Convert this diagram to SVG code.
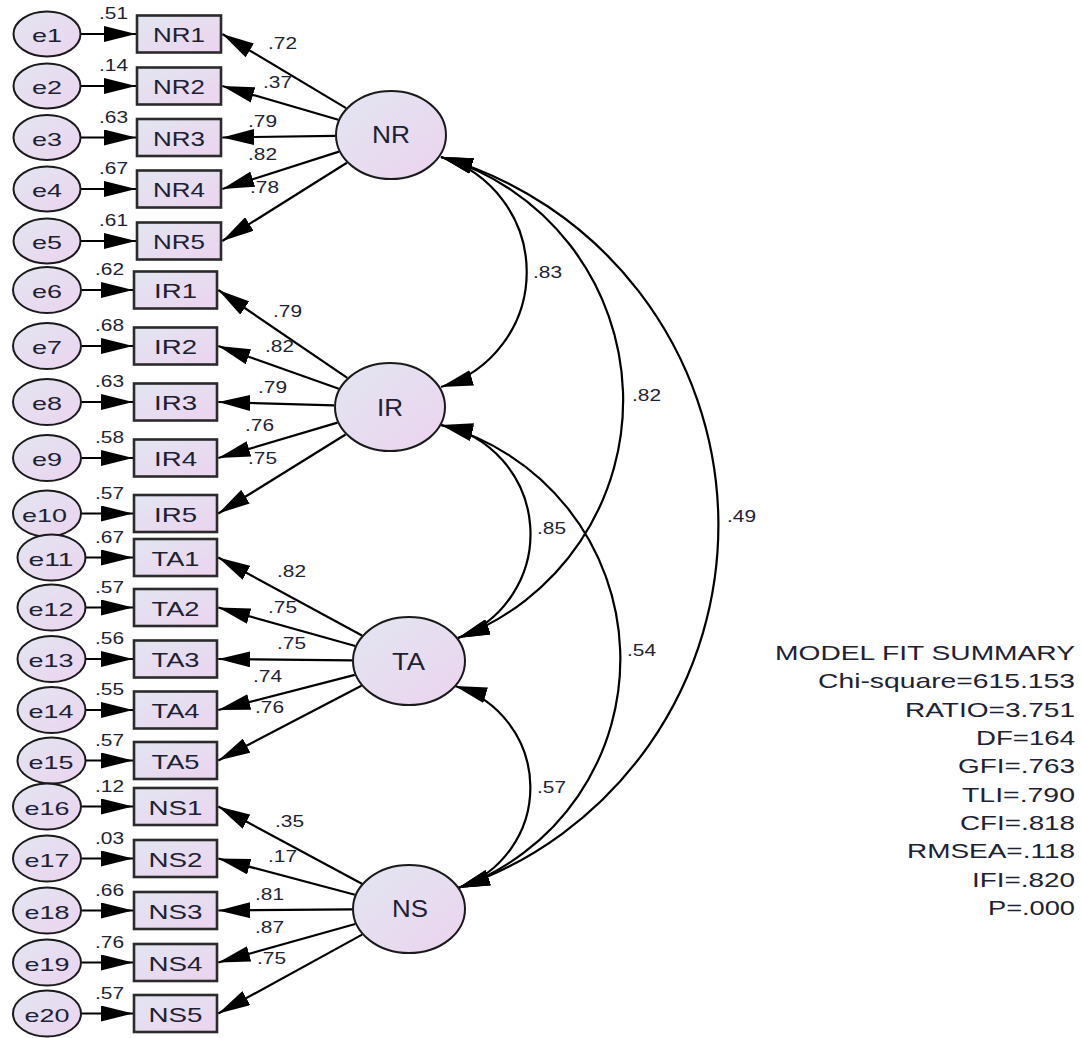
<svg xmlns="http://www.w3.org/2000/svg" width="1081" height="1038" viewBox="0 0 1081 1038">
<defs>
<linearGradient id="g" x1="0" y1="0" x2="1" y2="1">
<stop offset="0" stop-color="#e2e6f1"/>
<stop offset="1" stop-color="#ecd3ef"/>
</linearGradient>
<marker id="ah" viewBox="0 0 32 16" refX="32" refY="8" markerWidth="32" markerHeight="16" markerUnits="userSpaceOnUse" orient="auto-start-reverse">
<path d="M0,0 L32,8 L0,16 Z" fill="#000"/>
</marker>
<style>
.err{fill:url(#g);stroke:#1a1a1a;stroke-width:2}
.lat{fill:url(#g);stroke:#1a1a1a;stroke-width:2}
.box{fill:url(#g);stroke:#2b2b2b;stroke-width:2.6}
.cn line{stroke:#000;stroke-width:2.2;fill:none;marker-end:url(#ah)}
.cn path{stroke:#000;stroke-width:2.2;fill:none;marker-start:url(#ah);marker-end:url(#ah)}
text{font-family:"Liberation Sans",Arial,sans-serif;fill:#1d2233}
.el{font-size:19px}
.bl{font-size:21px}
.ll{font-size:23px}
.nl{font-size:16.5px}
.fit{font-size:21px}
</style>
</defs>

<g id="connectors" class="cn">
<!-- error to indicator -->
<line x1="81" y1="34" x2="136" y2="34"/>
<line x1="81" y1="86" x2="136" y2="86"/>
<line x1="81" y1="137.5" x2="136" y2="137.5"/>
<line x1="81" y1="189" x2="136" y2="189"/>
<line x1="81" y1="241" x2="136" y2="241"/>
<line x1="81.5" y1="290" x2="133" y2="290"/>
<line x1="81.5" y1="346" x2="133" y2="346"/>
<line x1="81.5" y1="402" x2="133" y2="402"/>
<line x1="81.5" y1="458" x2="133" y2="458"/>
<line x1="81.5" y1="513.5" x2="133" y2="513.5"/>
<line x1="86" y1="557.5" x2="133" y2="557.5"/>
<line x1="86" y1="607.5" x2="133" y2="607.5"/>
<line x1="86" y1="659" x2="133" y2="659"/>
<line x1="86" y1="710" x2="133" y2="710"/>
<line x1="86" y1="760.5" x2="133" y2="760.5"/>
<line x1="81.5" y1="806.5" x2="133" y2="806.5"/>
<line x1="81.5" y1="858.5" x2="133" y2="858.5"/>
<line x1="81.5" y1="910.5" x2="133" y2="910.5"/>
<line x1="81.5" y1="962.5" x2="133" y2="962.5"/>
<line x1="81.5" y1="1013.5" x2="133" y2="1013.5"/>
<!-- loadings NR -->
<line x1="346.1" y1="108.1" x2="222.3" y2="34"/>
<line x1="338.3" y1="119.7" x2="222.3" y2="86"/>
<line x1="335" y1="135.8" x2="222.3" y2="137.5"/>
<line x1="339" y1="151.6" x2="222.3" y2="189"/>
<line x1="346.9" y1="162.7" x2="222.3" y2="241"/>
<!-- loadings IR -->
<line x1="347.3" y1="377.9" x2="218.3" y2="290"/>
<line x1="338.8" y1="388.8" x2="218.3" y2="346"/>
<line x1="334" y1="405.4" x2="218.3" y2="402"/>
<line x1="337.5" y1="422.6" x2="218.3" y2="458"/>
<line x1="345.6" y1="434.5" x2="218.3" y2="513.5"/>
<!-- loadings TA -->
<line x1="362" y1="635.5" x2="218.3" y2="557.5"/>
<line x1="355.3" y1="646" x2="218.3" y2="607.5"/>
<line x1="352" y1="660.4" x2="218.3" y2="659"/>
<line x1="354.8" y1="674.9" x2="218.3" y2="710"/>
<line x1="361.4" y1="685.8" x2="218.3" y2="760.5"/>
<!-- loadings NS -->
<line x1="361.9" y1="883.7" x2="218.3" y2="806.5"/>
<line x1="354.9" y1="894.7" x2="218.3" y2="858.5"/>
<line x1="352" y1="909.4" x2="218.3" y2="910.5"/>
<line x1="355.3" y1="924" x2="218.3" y2="962.5"/>
<line x1="362.1" y1="934.6" x2="218.3" y2="1013.5"/>
<!-- covariances -->
<path d="M441,157 A120,120 0 0 1 441,387"/>
<path d="M441,157 A253.6,253.6 0 0 1 458,638"/>
<path d="M441,157 A383,383 0 0 1 458,888"/>
<path d="M441,425 A111,111 0 0 1 458,638"/>
<path d="M441,425 A242.5,242.5 0 0 1 458,888"/>
<path d="M455,686 A106,106 0 0 1 458,888"/>
</g>

<g id="connector-labels" class="nl">
<!-- squared multiple correlations -->
<text class="nl" x="99" y="19" textLength="29" lengthAdjust="spacingAndGlyphs">.51</text>
<text class="nl" x="99" y="71" textLength="29" lengthAdjust="spacingAndGlyphs">.14</text>
<text class="nl" x="99" y="122.5" textLength="29" lengthAdjust="spacingAndGlyphs">.63</text>
<text class="nl" x="99" y="174" textLength="29" lengthAdjust="spacingAndGlyphs">.67</text>
<text class="nl" x="99" y="226" textLength="29" lengthAdjust="spacingAndGlyphs">.61</text>
<text class="nl" x="95" y="275" textLength="29" lengthAdjust="spacingAndGlyphs">.62</text>
<text class="nl" x="95" y="331" textLength="29" lengthAdjust="spacingAndGlyphs">.68</text>
<text class="nl" x="95" y="387" textLength="29" lengthAdjust="spacingAndGlyphs">.63</text>
<text class="nl" x="95" y="443" textLength="29" lengthAdjust="spacingAndGlyphs">.58</text>
<text class="nl" x="95" y="498.5" textLength="29" lengthAdjust="spacingAndGlyphs">.57</text>
<text class="nl" x="95" y="542.5" textLength="29" lengthAdjust="spacingAndGlyphs">.67</text>
<text class="nl" x="95" y="592.5" textLength="29" lengthAdjust="spacingAndGlyphs">.57</text>
<text class="nl" x="95" y="644" textLength="29" lengthAdjust="spacingAndGlyphs">.56</text>
<text class="nl" x="95" y="695" textLength="29" lengthAdjust="spacingAndGlyphs">.55</text>
<text class="nl" x="95" y="745.5" textLength="29" lengthAdjust="spacingAndGlyphs">.57</text>
<text class="nl" x="95" y="791.5" textLength="29" lengthAdjust="spacingAndGlyphs">.12</text>
<text class="nl" x="95" y="843.5" textLength="29" lengthAdjust="spacingAndGlyphs">.03</text>
<text class="nl" x="95" y="895.5" textLength="29" lengthAdjust="spacingAndGlyphs">.66</text>
<text class="nl" x="95" y="947.5" textLength="29" lengthAdjust="spacingAndGlyphs">.76</text>
<text class="nl" x="95" y="998.5" textLength="29" lengthAdjust="spacingAndGlyphs">.57</text>
<!-- loadings -->
<text class="nl" x="268" y="49" textLength="29" lengthAdjust="spacingAndGlyphs">.72</text>
<text class="nl" x="263" y="88" textLength="29" lengthAdjust="spacingAndGlyphs">.37</text>
<text class="nl" x="248" y="127" textLength="29" lengthAdjust="spacingAndGlyphs">.79</text>
<text class="nl" x="248" y="160" textLength="29" lengthAdjust="spacingAndGlyphs">.82</text>
<text class="nl" x="250" y="193" textLength="29" lengthAdjust="spacingAndGlyphs">.78</text>
<text class="nl" x="273" y="317" textLength="29" lengthAdjust="spacingAndGlyphs">.79</text>
<text class="nl" x="265" y="352" textLength="29" lengthAdjust="spacingAndGlyphs">.82</text>
<text class="nl" x="258" y="393" textLength="29" lengthAdjust="spacingAndGlyphs">.79</text>
<text class="nl" x="245" y="431" textLength="29" lengthAdjust="spacingAndGlyphs">.76</text>
<text class="nl" x="248" y="464" textLength="29" lengthAdjust="spacingAndGlyphs">.75</text>
<text class="nl" x="277" y="577" textLength="29" lengthAdjust="spacingAndGlyphs">.82</text>
<text class="nl" x="268" y="613" textLength="29" lengthAdjust="spacingAndGlyphs">.75</text>
<text class="nl" x="277" y="649" textLength="29" lengthAdjust="spacingAndGlyphs">.75</text>
<text class="nl" x="253" y="682" textLength="29" lengthAdjust="spacingAndGlyphs">.74</text>
<text class="nl" x="255" y="713" textLength="29" lengthAdjust="spacingAndGlyphs">.76</text>
<text class="nl" x="275" y="827" textLength="29" lengthAdjust="spacingAndGlyphs">.35</text>
<text class="nl" x="268" y="862" textLength="29" lengthAdjust="spacingAndGlyphs">.17</text>
<text class="nl" x="255" y="900" textLength="29" lengthAdjust="spacingAndGlyphs">.81</text>
<text class="nl" x="255" y="933" textLength="29" lengthAdjust="spacingAndGlyphs">.87</text>
<text class="nl" x="257" y="964" textLength="29" lengthAdjust="spacingAndGlyphs">.75</text>
<!-- covariances -->
<text class="nl" x="533" y="278" textLength="29" lengthAdjust="spacingAndGlyphs">.83</text>
<text class="nl" x="632" y="401" textLength="29" lengthAdjust="spacingAndGlyphs">.82</text>
<text class="nl" x="727" y="522" textLength="29" lengthAdjust="spacingAndGlyphs">.49</text>
<text class="nl" x="537" y="534" textLength="29" lengthAdjust="spacingAndGlyphs">.85</text>
<text class="nl" x="627" y="656" textLength="29" lengthAdjust="spacingAndGlyphs">.54</text>
<text class="nl" x="537" y="793" textLength="29" lengthAdjust="spacingAndGlyphs">.57</text>
</g>

<!-- error terms -->
<g id="e1"><ellipse class="err" cx="47" cy="34" rx="33.5" ry="22.5"/><text class="el" x="32" y="42" textLength="30" lengthAdjust="spacingAndGlyphs">e1</text></g>
<g id="e2"><ellipse class="err" cx="47" cy="86" rx="33.5" ry="22.5"/><text class="el" x="32" y="94" textLength="30" lengthAdjust="spacingAndGlyphs">e2</text></g>
<g id="e3"><ellipse class="err" cx="47" cy="137.5" rx="33.5" ry="22.5"/><text class="el" x="32" y="145.5" textLength="30" lengthAdjust="spacingAndGlyphs">e3</text></g>
<g id="e4"><ellipse class="err" cx="47" cy="189" rx="33.5" ry="22.5"/><text class="el" x="32" y="197" textLength="30" lengthAdjust="spacingAndGlyphs">e4</text></g>
<g id="e5"><ellipse class="err" cx="47" cy="241" rx="33.5" ry="22.5"/><text class="el" x="32" y="249" textLength="30" lengthAdjust="spacingAndGlyphs">e5</text></g>
<g id="e6"><ellipse class="err" cx="47" cy="290" rx="34" ry="23"/><text class="el" x="32" y="298" textLength="30" lengthAdjust="spacingAndGlyphs">e6</text></g>
<g id="e7"><ellipse class="err" cx="47" cy="346" rx="34" ry="23"/><text class="el" x="32" y="354" textLength="30" lengthAdjust="spacingAndGlyphs">e7</text></g>
<g id="e8"><ellipse class="err" cx="47" cy="402" rx="34" ry="23"/><text class="el" x="32" y="410" textLength="30" lengthAdjust="spacingAndGlyphs">e8</text></g>
<g id="e9"><ellipse class="err" cx="47" cy="458" rx="34" ry="23"/><text class="el" x="32" y="466" textLength="30" lengthAdjust="spacingAndGlyphs">e9</text></g>
<g id="e10"><ellipse class="err" cx="47" cy="513.5" rx="34" ry="23"/><text class="el" x="22" y="521.5" textLength="45" lengthAdjust="spacingAndGlyphs">e10</text></g>
<g id="e11"><ellipse class="err" cx="51.5" cy="557.5" rx="34" ry="23"/><text class="el" x="28.5" y="565.5" textLength="45" lengthAdjust="spacingAndGlyphs">e11</text></g>
<g id="e12"><ellipse class="err" cx="51.5" cy="607.5" rx="34" ry="23"/><text class="el" x="28.5" y="615.5" textLength="45" lengthAdjust="spacingAndGlyphs">e12</text></g>
<g id="e13"><ellipse class="err" cx="51.5" cy="659" rx="34" ry="23"/><text class="el" x="28.5" y="667" textLength="45" lengthAdjust="spacingAndGlyphs">e13</text></g>
<g id="e14"><ellipse class="err" cx="51.5" cy="710" rx="34" ry="23"/><text class="el" x="28.5" y="718" textLength="45" lengthAdjust="spacingAndGlyphs">e14</text></g>
<g id="e15"><ellipse class="err" cx="51.5" cy="760.5" rx="34" ry="23"/><text class="el" x="28.5" y="768.5" textLength="45" lengthAdjust="spacingAndGlyphs">e15</text></g>
<g id="e16"><ellipse class="err" cx="47" cy="806.5" rx="34" ry="23"/><text class="el" x="24.5" y="814.5" textLength="45" lengthAdjust="spacingAndGlyphs">e16</text></g>
<g id="e17"><ellipse class="err" cx="47" cy="858.5" rx="34" ry="23"/><text class="el" x="24.5" y="866.5" textLength="45" lengthAdjust="spacingAndGlyphs">e17</text></g>
<g id="e18"><ellipse class="err" cx="47" cy="910.5" rx="34" ry="23"/><text class="el" x="24.5" y="918.5" textLength="45" lengthAdjust="spacingAndGlyphs">e18</text></g>
<g id="e19"><ellipse class="err" cx="47" cy="962.5" rx="34" ry="23"/><text class="el" x="24.5" y="970.5" textLength="45" lengthAdjust="spacingAndGlyphs">e19</text></g>
<g id="e20"><ellipse class="err" cx="47" cy="1013.5" rx="34" ry="23"/><text class="el" x="24.5" y="1021.5" textLength="45" lengthAdjust="spacingAndGlyphs">e20</text></g>

<!-- indicators -->
<g id="NR1"><rect class="box" x="137" y="15.5" width="84" height="37"/><text class="bl" x="153" y="42" textLength="52" lengthAdjust="spacingAndGlyphs">NR1</text></g>
<g id="NR2"><rect class="box" x="137" y="67.5" width="84" height="37"/><text class="bl" x="153" y="94" textLength="52" lengthAdjust="spacingAndGlyphs">NR2</text></g>
<g id="NR3"><rect class="box" x="137" y="119" width="84" height="37"/><text class="bl" x="153" y="145.5" textLength="52" lengthAdjust="spacingAndGlyphs">NR3</text></g>
<g id="NR4"><rect class="box" x="137" y="170.5" width="84" height="37"/><text class="bl" x="153" y="197" textLength="52" lengthAdjust="spacingAndGlyphs">NR4</text></g>
<g id="NR5"><rect class="box" x="137" y="222.5" width="84" height="37"/><text class="bl" x="153" y="249" textLength="52" lengthAdjust="spacingAndGlyphs">NR5</text></g>
<g id="IR1"><rect class="box" x="134" y="271.5" width="83" height="37"/><text class="bl" x="154" y="298" textLength="43" lengthAdjust="spacingAndGlyphs">IR1</text></g>
<g id="IR2"><rect class="box" x="134" y="327.5" width="83" height="37"/><text class="bl" x="154" y="354" textLength="43" lengthAdjust="spacingAndGlyphs">IR2</text></g>
<g id="IR3"><rect class="box" x="134" y="383.5" width="83" height="37"/><text class="bl" x="154" y="410" textLength="43" lengthAdjust="spacingAndGlyphs">IR3</text></g>
<g id="IR4"><rect class="box" x="134" y="439.5" width="83" height="37"/><text class="bl" x="154" y="466" textLength="43" lengthAdjust="spacingAndGlyphs">IR4</text></g>
<g id="IR5"><rect class="box" x="134" y="495" width="83" height="37"/><text class="bl" x="154" y="521.5" textLength="43" lengthAdjust="spacingAndGlyphs">IR5</text></g>
<g id="TA1"><rect class="box" x="134" y="539" width="83" height="37"/><text class="bl" x="151.5" y="565.5" textLength="48" lengthAdjust="spacingAndGlyphs">TA1</text></g>
<g id="TA2"><rect class="box" x="134" y="589" width="83" height="37"/><text class="bl" x="151.5" y="615.5" textLength="48" lengthAdjust="spacingAndGlyphs">TA2</text></g>
<g id="TA3"><rect class="box" x="134" y="640.5" width="83" height="37"/><text class="bl" x="151.5" y="667" textLength="48" lengthAdjust="spacingAndGlyphs">TA3</text></g>
<g id="TA4"><rect class="box" x="134" y="691.5" width="83" height="37"/><text class="bl" x="151.5" y="718" textLength="48" lengthAdjust="spacingAndGlyphs">TA4</text></g>
<g id="TA5"><rect class="box" x="134" y="742" width="83" height="37"/><text class="bl" x="151.5" y="768.5" textLength="48" lengthAdjust="spacingAndGlyphs">TA5</text></g>
<g id="NS1"><rect class="box" x="134" y="788" width="83" height="37"/><text class="bl" x="148.5" y="814.5" textLength="54" lengthAdjust="spacingAndGlyphs">NS1</text></g>
<g id="NS2"><rect class="box" x="134" y="840" width="83" height="37"/><text class="bl" x="148.5" y="866.5" textLength="54" lengthAdjust="spacingAndGlyphs">NS2</text></g>
<g id="NS3"><rect class="box" x="134" y="892" width="83" height="37"/><text class="bl" x="148.5" y="918.5" textLength="54" lengthAdjust="spacingAndGlyphs">NS3</text></g>
<g id="NS4"><rect class="box" x="134" y="944" width="83" height="37"/><text class="bl" x="148.5" y="970.5" textLength="54" lengthAdjust="spacingAndGlyphs">NS4</text></g>
<g id="NS5"><rect class="box" x="134" y="995" width="83" height="37"/><text class="bl" x="148.5" y="1021.5" textLength="54" lengthAdjust="spacingAndGlyphs">NS5</text></g>

<!-- latent variables -->
<g id="NR"><ellipse class="lat" cx="391" cy="135" rx="55" ry="44"/><text class="ll" x="372" y="143" textLength="38" lengthAdjust="spacingAndGlyphs">NR</text></g>
<g id="IR"><ellipse class="lat" cx="390" cy="407" rx="55" ry="44"/><text class="ll" x="377" y="416" textLength="26" lengthAdjust="spacingAndGlyphs">IR</text></g>
<g id="TA"><ellipse class="lat" cx="409" cy="661" rx="56" ry="44"/><text class="ll" x="392" y="670" textLength="33" lengthAdjust="spacingAndGlyphs">TA</text></g>
<g id="NS"><ellipse class="lat" cx="409" cy="909" rx="56" ry="44"/><text class="ll" x="392" y="917" textLength="36" lengthAdjust="spacingAndGlyphs">NS</text></g>

<!-- model fit summary -->
<g id="model-fit-summary">
<text class="fit" x="775" y="660" textLength="300" lengthAdjust="spacingAndGlyphs">MODEL FIT SUMMARY</text>
<text class="fit" x="818" y="688" textLength="257" lengthAdjust="spacingAndGlyphs">Chi-square=615.153</text>
<text class="fit" x="905" y="717" textLength="170" lengthAdjust="spacingAndGlyphs">RATIO=3.751</text>
<text class="fit" x="976" y="745" textLength="99" lengthAdjust="spacingAndGlyphs">DF=164</text>
<text class="fit" x="958" y="773" textLength="117" lengthAdjust="spacingAndGlyphs">GFI=.763</text>
<text class="fit" x="962" y="802" textLength="113" lengthAdjust="spacingAndGlyphs">TLI=.790</text>
<text class="fit" x="960" y="830" textLength="115" lengthAdjust="spacingAndGlyphs">CFI=.818</text>
<text class="fit" x="907" y="858" textLength="168" lengthAdjust="spacingAndGlyphs">RMSEA=.118</text>
<text class="fit" x="972" y="887" textLength="103" lengthAdjust="spacingAndGlyphs">IFI=.820</text>
<text class="fit" x="988" y="915" textLength="87" lengthAdjust="spacingAndGlyphs">P=.000</text>
</g>
</svg>
